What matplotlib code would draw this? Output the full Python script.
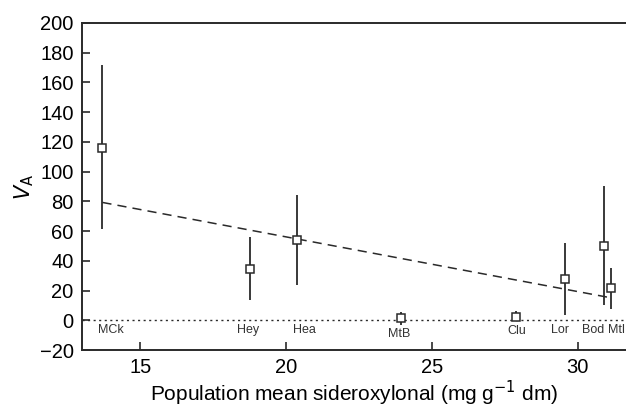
import matplotlib
matplotlib.use("Agg")
import matplotlib.pyplot as plt
import numpy as np

plt.rcParams['font.family'] = ['Liberation Sans', 'DejaVu Sans']

sites = ["MCk", "Hey", "Hea", "MtB", "Clu", "Lor", "Bod", "Mtl"]
sidero = [13.7, 18.77, 20.36, 23.92, 27.87, 29.55, 30.89, 31.14]
va = [116, 34.5, 54, 1.6, 2, 27.6, 50.3, 22]
va_upper = [172, 56, 84.5, 5.6, 6.5, 52, 90.5, 35]
va_lower = [61.6, 13.8, 24, -3.3, -0.5, 3.3, 10.5, 7.8]
label_x = [14.0, 18.7, 20.63, 23.86, 27.9, 29.4, 30.52, 31.33]
label_y = [-6.5, -6.5, -6.5, -9, -7, -6.5, -6.5, -6.5]
fit_intercept = 129.7
fit_slope = -3.68
fit_range = [13.7, 31.0]

fig = plt.figure(figsize=(6.26, 4.07), dpi=100)
ax = fig.add_axes([0.131, 0.14, 0.869, 0.8035])

col = '#2a2a2a'
va_a = np.array(va)
yerr = [va_a - np.array(va_lower), np.array(va_upper) - va_a]
ax.errorbar(sidero, va, yerr=yerr, fmt='s', color=col, ecolor=col,
            elinewidth=1.3, capsize=0, markersize=5.5, markerfacecolor='white',
            markeredgecolor=col, markeredgewidth=1.1, zorder=3)

fx = np.array(fit_range)
ax.plot(fx, fit_intercept + fit_slope * fx, linestyle=(0, (6, 4)), color=col, lw=1.1, zorder=2)
ax.axhline(0, color=col, linestyle=(0, (1.5, 2.5)), lw=1.0, zorder=1)

for s, x, y in zip(sites, label_x, label_y):
    ax.text(x, y, s, fontsize=9, color='#333333', ha='center', va='center')

ax.set_xlim(13, 31.65)
ax.set_ylim(-20, 200)
ax.set_xticks([15, 20, 25, 30])
ax.set_yticks(range(-20, 201, 20))
ax.set_yticklabels(['\u221220' if v == -20 else str(v) for v in range(-20, 201, 20)])
ax.tick_params(direction='in', length=6, width=1.2, labelsize=14.5, color=col)
ax.tick_params(axis='y', pad=6)
ax.tick_params(axis='x', pad=6)
ax.spines['right'].set_visible(False)
for s in ['left', 'bottom', 'top']:
    ax.spines[s].set_linewidth(1.4)
    ax.spines[s].set_color(col)

ax.set_xlabel("Population mean sideroxylonal (mg g$^{\u22121}$ dm)", fontsize=15, labelpad=1)
ax.set_ylabel("$V_{\\mathrm{A}}$", fontsize=15)
ax.yaxis.set_label_coords(-0.085, 0.5)

fig.savefig("out.png", dpi=100)
